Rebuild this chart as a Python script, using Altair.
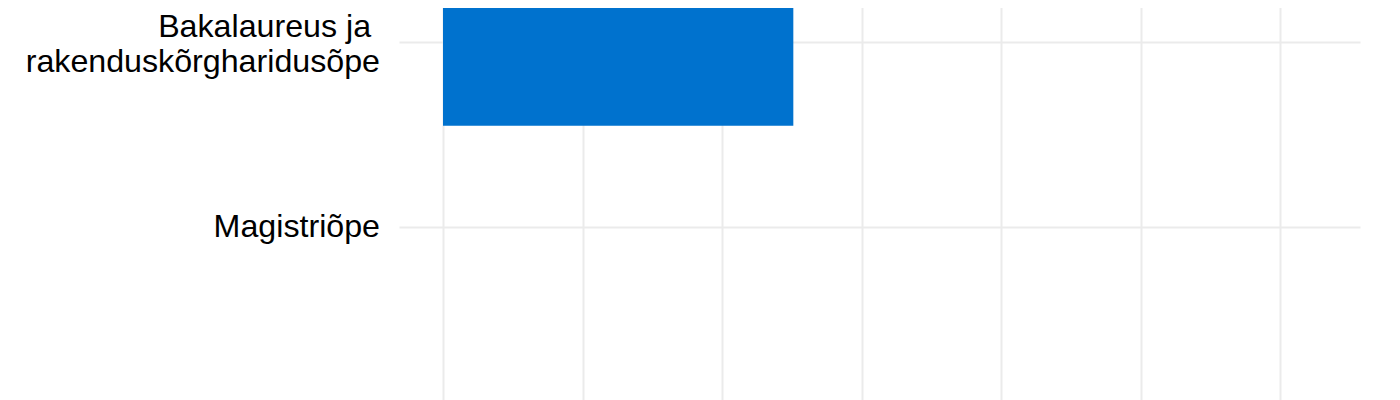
import altair as alt
import pandas as pd

categories = ["Bakalaureus ja rakenduskõrgharidusõpe", "Magistriõpe"]
values = [25.1, 0.0]
x_ticks = [0, 10, 20, 30, 40, 50, 60]

df = pd.DataFrame({"tase": categories, "vaartus": values})

label_expr = (
    "datum.label == 'Bakalaureus ja rakenduskõrgharidusõpe' "
    "? ['Bakalaureus ja\u00a0\u200b', 'rakenduskõrgharidusõpe'] : datum.label"
)

chart = (
    alt.Chart(df)
    .mark_bar(color="#0072ce")
    .encode(
        x=alt.X(
            "vaartus:Q",
            scale=alt.Scale(domain=[0, 65.7], nice=False, zero=True),
            axis=alt.Axis(
                values=x_ticks,
                title=None,
                grid=True,
                gridColor="#ebebeb",
                gridWidth=2,
                domain=False,
                ticks=False,
                labels=False,
            ),
        ),
        y=alt.Y(
            "tase:N",
            sort=categories,
            scale=alt.Scale(
                domain=categories,
                paddingInner=0.1,
                paddingOuter=0.55,
            ),
            axis=alt.Axis(
                title=None,
                grid=True,
                gridColor="#ebebeb",
                gridWidth=2,
                domain=False,
                ticks=True,
                tickSize=44,
                tickColor="#ebebeb",
                tickWidth=2,
                labelPadding=19.5,
                labelFont="Liberation Sans",
                labelFontSize=32.2,
                labelLineHeight=35,
                labelColor="#000000",
                labelBaseline="middle",
                labelExpr=label_expr,
                labelOffset={
                    "condition": {
                        "test": "datum.value == 'Bakalaureus ja rakenduskõrgharidusõpe'",
                        "value": -16,
                    },
                    "value": 0,
                },
                labelLimit=0,
            ),
        ),
    )
    .properties(
        width=917,
        height=553.8,
        autosize=alt.AutoSizeParams(type="none"),
        padding={"left": 435, "top": -149.9, "right": 20, "bottom": 0},
    )
    .configure_view(stroke=None)
)

chart.save("out.html", embed_options={"renderer": "svg", "actions": False})
